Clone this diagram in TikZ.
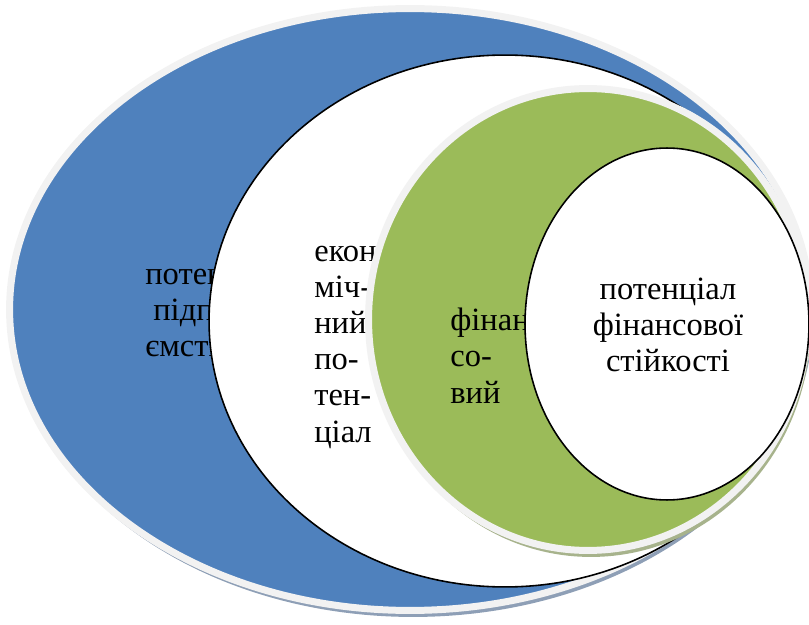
\documentclass[tikz,border=0pt]{standalone}
\usepackage{fontspec}
\setmainfont{Liberation Serif}
\definecolor{bigblue}{HTML}{4F81BD}
\definecolor{fingreen}{HTML}{9BBB59}
\definecolor{rimgray}{HTML}{F2F2F2}
\definecolor{blueshade}{HTML}{8E9FB6}
\definecolor{greenshade}{HTML}{A7B38C}
\begin{document}
\begin{tikzpicture}[x=0.02cm, y=-0.02cm,
	ring/.style={draw=rimgray, line width=0.14cm},
	outline/.style={draw=black, line width=0.9pt, fill=white},
	lbl/.style={inner sep=0pt, font=\fontsize{18.5}{20.5}\selectfont}]
	\useasboundingbox (0,0) rectangle (809,625);
	\fill [blueshade] (413,316) ellipse [x radius=8.01cm, y radius=6.02cm];
	\fill [bigblue, ring] (410,309.5) ellipse [x radius=8.01cm, y radius=6.02cm];
	\node [lbl, anchor=base west, align=left] (enterprise) at (145,357) {потенціал\\\hspace*{0.16cm}підпри-\\ємства};
	\draw [outline] (505,321) ellipse [x radius=5.92cm, y radius=5.32cm];
	\node [lbl, anchor=base west, align=left] (economic) at (314,442) {еконо-\\міч-\\ний\\по-\\тен-\\ціал};
	\fill [greenshade] (591,326) ellipse [x radius=4.39cm, y radius=4.62cm];
	\fill [fingreen, ring] (588,319.5) ellipse [x radius=4.39cm, y radius=4.62cm];
	\node [lbl, anchor=base west, align=left] (financial) at (450,403) {фінан-\\со-\\вий};
	\draw [outline] (667,324) ellipse [x radius=2.84cm, y radius=3.52cm];
	\node [lbl, anchor=base, align=center] (stability) at (668,372) {потенціал\\фінансової\\стійкості};
\end{tikzpicture}
\end{document}
